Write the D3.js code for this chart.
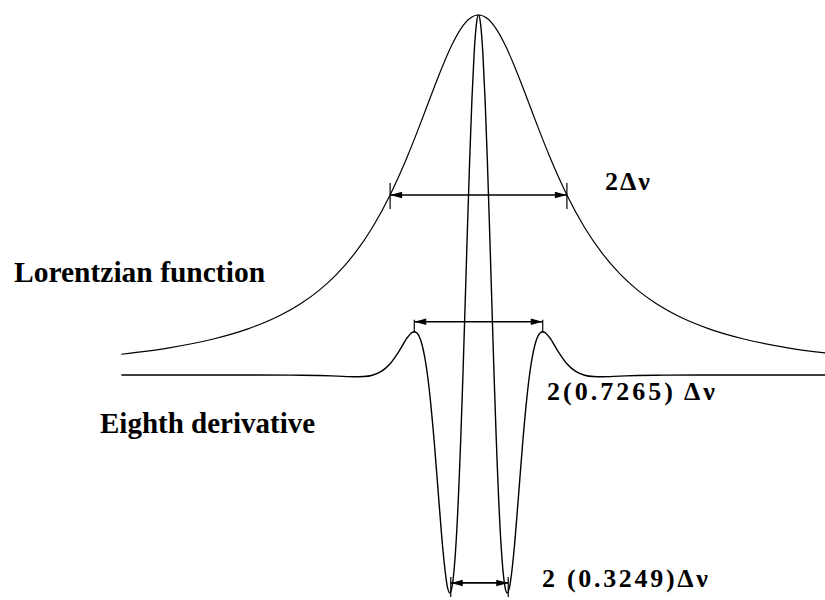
<!DOCTYPE html>
<html>
<head>
<meta charset="utf-8">
<script src="https://cdn.jsdelivr.net/npm/d3@7"></script>
</head>
<body style="margin:0">
<svg id="chart" width="825" height="600"></svg>
<script>
// Frequency offset from line centre, in units of the half width Δν
const lorentzX = [-4.04, -3.5, -3, -2.6, -2.3, -2, -1.8, -1.6, -1.4, -1.2, -1, -0.9, -0.8, -0.7, -0.6, -0.5, -0.4, -0.3, -0.2, -0.1,
                  0, 0.1, 0.2, 0.3, 0.4, 0.5, 0.6, 0.7, 0.8, 0.9, 1, 1.2, 1.4, 1.6, 1.8, 2, 2.3, 2.6, 3, 3.5, 4.04];
// Lorentzian profile, normalised to 1 at the centre
const lorentzY = [0.0577, 0.0755, 0.1, 0.1289, 0.159, 0.2, 0.2358, 0.2809, 0.3378, 0.4098, 0.5, 0.5525, 0.6098, 0.6711, 0.7353, 0.8, 0.8621, 0.9174, 0.9615, 0.9901,
                  1, 0.9901, 0.9615, 0.9174, 0.8621, 0.8, 0.7353, 0.6711, 0.6098, 0.5525, 0.5, 0.4098, 0.3378, 0.2809, 0.2358, 0.2, 0.159, 0.1289, 0.1, 0.0755, 0.0577];

const derivX = [-4.04, -3, -2.5, -2, -1.8, -1.6, -1.4, -1.3, -1.2, -1.1, -1, -0.9, -0.8, -0.75, -0.7265, -0.7, -0.65, -0.6, -0.577, -0.55,
                -0.5, -0.45, -0.4, -0.35, -0.325, -0.3, -0.25, -0.2, -0.176, -0.15, -0.125, -0.1, -0.075, -0.05, -0.025,
                0,
                0.025, 0.05, 0.075, 0.1, 0.125, 0.15, 0.176, 0.2, 0.25, 0.3, 0.325, 0.35, 0.4, 0.45, 0.5,
                0.55, 0.577, 0.6, 0.65, 0.7, 0.7265, 0.75, 0.8, 0.9, 1, 1.1, 1.2, 1.3, 1.4, 1.6, 1.8, 2, 2.5, 3, 4.04];
// Eighth derivative of the Lorentzian, normalised to 1 at the centre
const derivY = [0, 0, 0, -0.0006, -0.0015, -0.0031, -0.0049, -0.0043, -0.0006, 0.0099, 0.0313, 0.0659, 0.1055, 0.1183, 0.1201, 0.1174, 0.0937, 0.0378, 0, -0.0565,
                -0.1882, -0.3435, -0.4925, -0.5908, -0.6054, -0.5893, -0.4509, -0.1713, 0, 0.2069, 0.4071, 0.5966, 0.762, 0.8906, 0.9721,
                1,
                0.9721, 0.8906, 0.762, 0.5966, 0.4071, 0.2069, 0, -0.1713, -0.4509, -0.5893, -0.6054, -0.5908, -0.4925, -0.3435, -0.1882,
                -0.0565, 0, 0.0378, 0.0937, 0.1174, 0.1201, 0.1183, 0.1055, 0.0659, 0.0313, 0.0099, -0.0006, -0.0043, -0.0049, -0.0031, -0.0015, -0.0006, 0, 0, 0];

// Widths marked on the figure (half widths in Δν) and the level each one sits at
const widthHalf = [1, 0.7265, 0.3249];
const widthLevel = [0.5, 0.1201, -0.6054];
const widthLabels = ["2Δν", "2(0.7265) Δν", "2 (0.3249)Δν"];
const curveLabels = ["Lorentzian function", "Eighth derivative"];

const svg = d3.select("#chart");
const centre = 478.5, unit = 88.4;

const x = d3.scaleLinear().domain([-4, 4]).range([centre - 4 * unit, centre + 4 * unit]);
const y = d3.scaleLinear().domain([0, 1]).range([375, 15]);

const line = d3.line()
  .x(d => x(d[0]))
  .y(d => y(d[1]))
  .curve(d3.curveMonotoneX);

svg.append("path")
  .datum(d3.zip(lorentzX, lorentzY))
  .attr("d", line)
  .attr("fill", "none")
  .attr("stroke", "#000")
  .attr("stroke-width", 1.2);

svg.append("path")
  .datum(d3.zip(derivX, derivY))
  .attr("d", line)
  .attr("fill", "none")
  .attr("stroke", "#000")
  .attr("stroke-width", 1.4);

// Double-headed width markers: offset of the arrow above its level, and the end-tick extent
const markerGeom = [
  { dy: 0,   tickTop: -12, tickBottom: 14 },
  { dy: -10, tickTop: -2,  tickBottom: 11 },
  { dy: -10, tickTop: -6,  tickBottom: 14 }
];

const g = svg.append("g").attr("stroke", "#000");
widthHalf.forEach((h, i) => {
  const xl = x(-h) + (i === 2 ? 1 : 0), xr = x(h) + (i === 2 ? 1 : 0);
  const yy = y(widthLevel[i]) + markerGeom[i].dy;
  const m = markerGeom[i];
  g.append("line").attr("x1", xl).attr("x2", xr).attr("y1", yy).attr("y2", yy).attr("stroke-width", 1.7);
  [xl, xr].forEach(xe => {
    g.append("line").attr("x1", xe).attr("x2", xe)
      .attr("y1", yy + m.tickTop).attr("y2", yy + m.tickBottom).attr("stroke-width", 1.2);
  });
  const L = 12, W = 3.2;
  g.append("path").attr("fill", "#000").attr("stroke", "none")
    .attr("d", `M${xl},${yy}L${xl + L},${yy - W}L${xl + L},${yy + W}Z`);
  g.append("path").attr("fill", "#000").attr("stroke", "none")
    .attr("d", `M${xr},${yy}L${xr - L},${yy - W}L${xr - L},${yy + W}Z`);
});

// Width annotations
const labelPos = [
  { x: 605, y: 190, sp: 2 },
  { x: 547, y: 400, sp: 3 },
  { x: 542, y: 587, sp: 2.7 }
];
widthLabels.forEach((t, i) => {
  svg.append("text")
    .attr("x", labelPos[i].x).attr("y", labelPos[i].y)
    .style("font-family", "\"Liberation Serif\", monospace")
    .style("font-size", "26px").style("font-weight", "bold")
    .style("letter-spacing", labelPos[i].sp + "px")
    .text(t);
});

// Curve names
const namePos = [{ x: 14, y: 282, size: 29.5 }, { x: 100, y: 433, size: 29 }];
curveLabels.forEach((t, i) => {
  svg.append("text")
    .attr("x", namePos[i].x).attr("y", namePos[i].y)
    .style("font-family", "\"Liberation Serif\", monospace")
    .style("font-size", namePos[i].size + "px").style("font-weight", "bold")
    .text(t);
});
</script>
</body>
</html>
